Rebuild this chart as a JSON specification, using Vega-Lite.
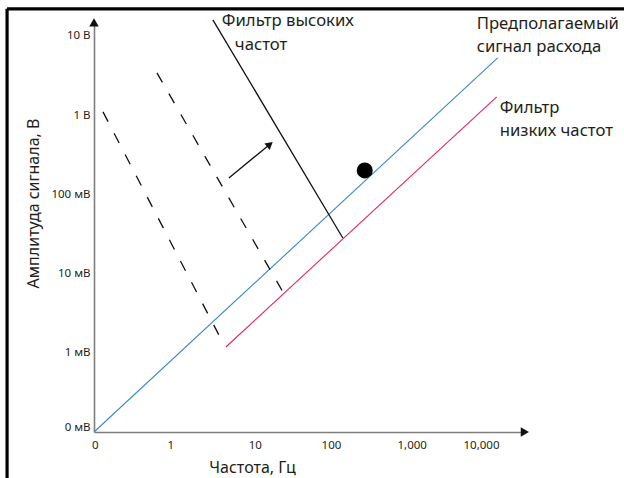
{
  "$schema": "https://vega.github.io/schema/vega-lite/v6.json",
  "width": 427,
  "height": 412,
  "autosize": {"type": "none"},
  "padding": {"left": 94, "top": 20, "right": 103, "bottom": 46},
  "background": "white",
  "config": {
    "view": {"stroke": null},
    "font": "Noto Sans",
    "axis": {"grid": false, "ticks": false, "domainColor": "#7f7f7f", "domainWidth": 1.6, "labelColor": "#231f20", "labelFontSize": 11.5, "titleColor": "#231f20", "titleFontSize": 16, "titleFontWeight": "normal", "labelFont": "Noto Sans", "titleFont": "Noto Sans"}
  },
  "datasets": {
    "lines": [
      {"id": "blue", "u": 0, "v": 0},
      {"id": "blue", "u": 5.247, "v": 4.722},
      {"id": "red", "u": 1.714, "v": 1.073},
      {"id": "red", "u": 5.234, "v": 4.23},
      {"id": "hp", "u": 1.545, "v": 5.202},
      {"id": "hp", "u": 3.234, "v": 2.449},
      {"id": "dash1", "u": 0.117, "v": 4.04},
      {"id": "dash1", "u": 1.623, "v": 1.225},
      {"id": "dash2", "u": 0.818, "v": 4.533},
      {"id": "dash2", "u": 2.455, "v": 1.768},
      {"id": "arrow", "u": 1.753, "v": 3.207},
      {"id": "arrow", "u": 2.26, "v": 3.611}
    ],
    "pts": [
      {"kind": "head", "u": 2.286, "v": 3.63, "shape": "triangle-right", "angle": -39, "size": 70},
      {"kind": "xarrow", "u": 5.6, "v": 0, "shape": "triangle-right", "angle": 0, "size": 90},
      {"kind": "yarrow", "u": 0, "v": 5.17, "shape": "triangle-up", "angle": 0, "size": 90}
    ],
    "dot": [{"u": 3.519, "v": 3.302}],
    "labels": [
      {"u": 1.662, "v": 5.189, "text": "Фильтр высоких"},
      {"u": 1.831, "v": 4.886, "text": "частот"},
      {"u": 4.974, "v": 5.152, "text": "Предполагаемый"},
      {"u": 4.974, "v": 4.861, "text": "сигнал расхода"},
      {"u": 5.273, "v": 4.091, "text": "Фильтр"},
      {"u": 5.273, "v": 3.801, "text": "низких частот"}
    ],
    "frame": [
      {"u": -1.13, "v": 5.341, "u2": 6.9, "v2": 5.341},
      {"u": -1.13, "v": 5.341, "u2": -1.13, "v2": -0.7}
    ]
  },
  "encoding": {
    "x": {
      "field": "u", "type": "quantitative",
      "scale": {"domain": [0, 5.55], "nice": false, "zero": false},
      "axis": {
        "title": "Частота, Гц",
        "values": [0.01, 0.99, 2.09, 3.08, 4.13, 5.03],
        "labelExpr": "datum.value < 0.5 ? '0' : datum.value < 1.5 ? '1' : datum.value < 2.5 ? '10' : datum.value < 3.5 ? '100' : datum.value < 4.5 ? '1,000' : '10,000'",
        "labelPadding": 7,
        "labelFlush": false,
        "labelOverlap": false,
        "titleX": 158, "titleY": 35, "titleAlign": "center", "titleBaseline": "middle"
      }
    },
    "y": {
      "field": "v", "type": "quantitative",
      "scale": {"domain": [0, 5.2], "nice": false, "zero": false},
      "axis": {
        "title": "Амплитуда сигнала, В",
        "values": [0, 1, 2, 3, 4, 5],
        "labelExpr": "['0 мВ','1 мВ','10 мВ','100 мВ','1 В','10 В'][round(datum.value)]",
        "labelPadding": 4,
        "labelFlush": false,
        "labelOverlap": false,
        "labelBaseline": {"condition": {"test": "datum.value == 0", "value": "bottom"}, "value": "middle"},
        "titleX": -61, "titleY": 183, "titleAlign": "center", "titleBaseline": "middle", "titleAngle": -90
      }
    }
  },
  "layer": [
    {
      "data": {"name": "lines"},
      "transform": [{"filter": "datum.id == 'blue'"}],
      "mark": {"type": "line", "color": "#3a86c8", "strokeWidth": 1.1},
      "encoding": {}
    },
    {
      "data": {"name": "lines"},
      "transform": [{"filter": "datum.id == 'red'"}],
      "mark": {"type": "line", "color": "#e2266a", "strokeWidth": 1.1},
      "encoding": {}
    },
    {
      "data": {"name": "lines"},
      "transform": [{"filter": "datum.id == 'hp' || datum.id == 'arrow'"}],
      "mark": {"type": "line", "color": "#111111", "strokeWidth": 1.3},
      "encoding": {"detail": {"field": "id"}}
    },
    {
      "data": {"name": "lines"},
      "transform": [{"filter": "datum.id == 'dash1' || datum.id == 'dash2'"}],
      "mark": {"type": "line", "color": "#111111", "strokeWidth": 1.3, "strokeDash": [11, 13]},
      "encoding": {"detail": {"field": "id"}}
    },
    {
      "data": {"name": "pts"},
      "mark": {"type": "point", "filled": true, "color": "#111111", "opacity": 1, "clip": false},
      "encoding": {
        "shape": {"field": "shape", "type": "nominal", "scale": null, "legend": null},
        "angle": {"field": "angle", "type": "quantitative", "scale": null},
        "size": {"field": "size", "type": "quantitative", "scale": null, "legend": null}
      }
    },
    {
      "data": {"name": "dot"},
      "mark": {"type": "point", "shape": "circle", "filled": true, "color": "#000000", "size": 256, "opacity": 1},
      "encoding": {}
    },
    {
      "data": {"name": "labels"},
      "mark": {"type": "text", "align": "left", "baseline": "middle", "fontSize": 16.7, "color": "#231f20", "font": "Noto Sans"},
      "encoding": {"text": {"field": "text"}}
    },
    {
      "data": {"name": "frame"},
      "mark": {"type": "rule", "color": "#000000", "strokeWidth": 3.2, "clip": false},
      "encoding": {"x2": {"field": "u2"}, "y2": {"field": "v2"}}
    }
  ]
}
